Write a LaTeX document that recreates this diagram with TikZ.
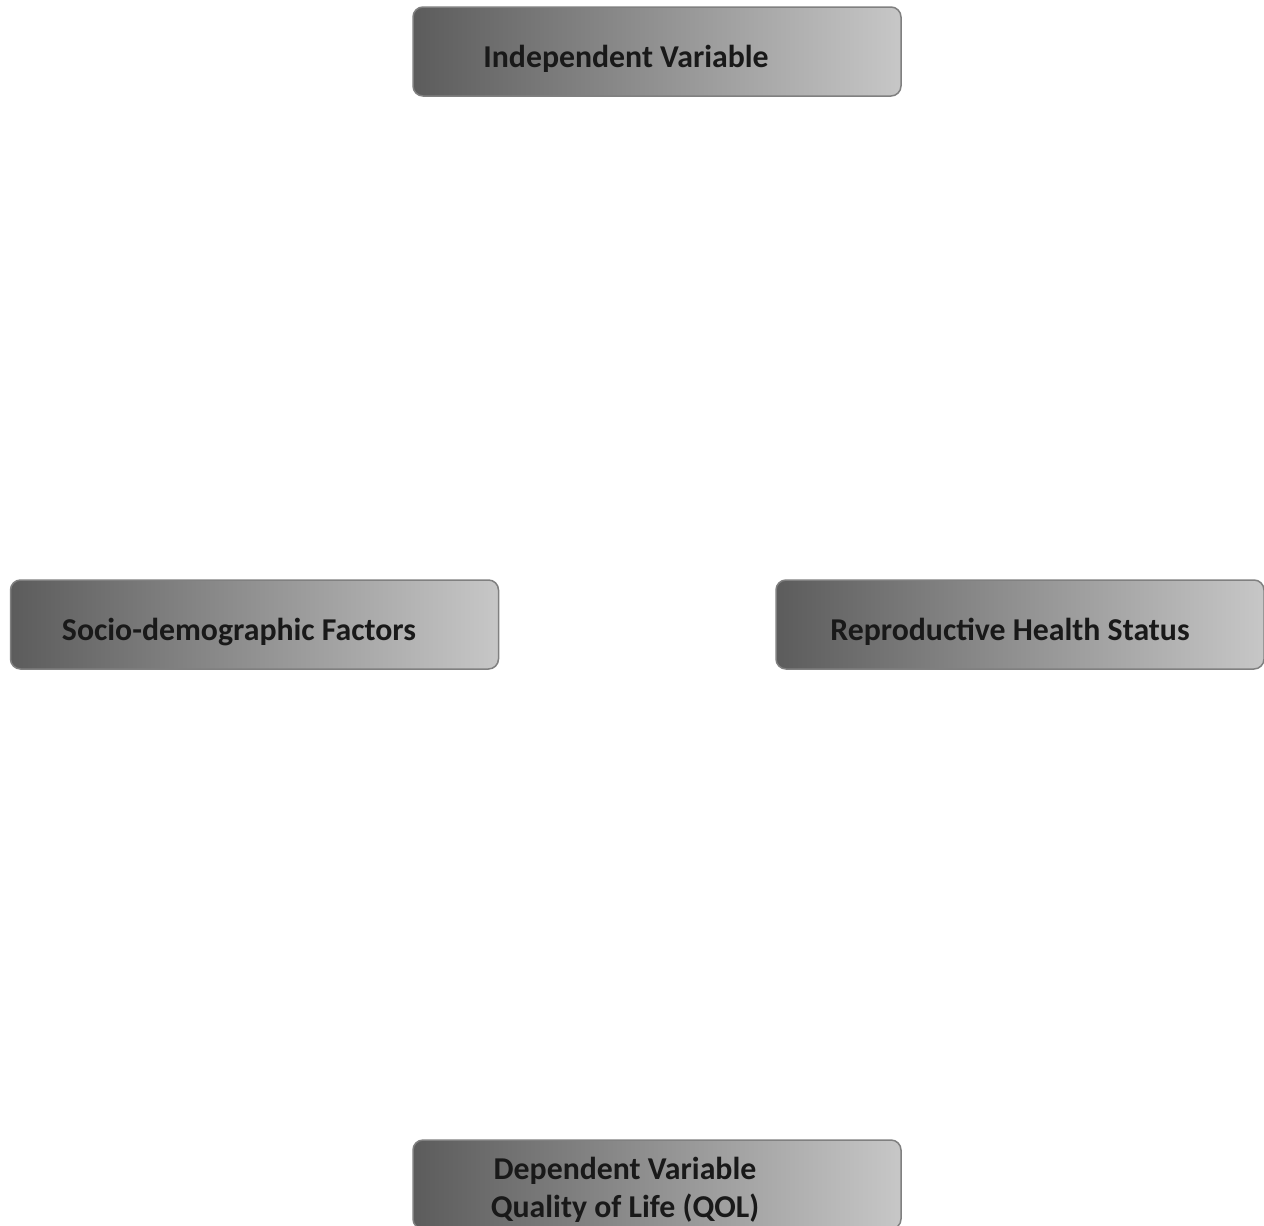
\documentclass[tikz,border=0pt]{standalone}
\usepackage{fontspec}
\setmainfont{Carlito}
\tikzset{
every picture/.style={
line width=1.5pt
},
varbox/.style={
rectangle, rounded corners=10pt, draw=black!50,
left color=black!64, right color=black!22,
minimum width=488pt, minimum height=89pt, inner sep=0pt
},
varlabel/.style={
font=\fontsize{31.8}{38.5}\selectfont\bfseries, text=black!90, align=center, inner sep=0pt
}}
\usepackage{tikz}

\begin{document}
\begin{tikzpicture}[x=1pt,y=1pt]
  \useasboundingbox (0,0) rectangle (1264,-1226);

  \node[varbox] (indep) at (657,-51.5) {};
  \node[varlabel] (indeptext) at (626,-59) {Independent Variable};

  \node[varbox] (socio) at (254.5,-624.5) {};
  \node[varlabel] (sociotext) at (239,-632) {Socio-demographic Factors};

  \node[varbox] (repro) at (1020,-624.5) {};
  \node[varlabel] (reprotext) at (1010,-632) {Reproductive Health Status};

  \node[varbox] (dep) at (657,-1184.5) {};
  \node[varlabel] (deptext) at (625,-1190) {Dependent Variable\\Quality of Life (QOL)};
\end{tikzpicture}
\end{document}
